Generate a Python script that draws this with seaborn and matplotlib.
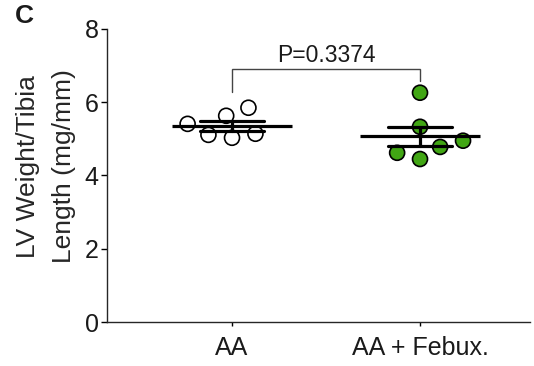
import numpy as np
import pandas as pd
import matplotlib
matplotlib.use("Agg")
import matplotlib.pyplot as plt
from matplotlib.path import Path
import seaborn as sns

# LV weight normalised to tibia length (mg/mm), one value per animal
groups = ["AA", "AA + Febux."]
aa_values = [5.63, 5.85, 5.41, 5.03, 5.11, 5.14]
febux_values = [6.26, 5.33, 4.95, 4.78, 4.62, 4.45]
p_label = "P=0.3374"
y_ticks = [0, 2, 4, 6, 8]

df = pd.DataFrame({
    "group": [groups[0]] * len(aa_values) + [groups[1]] * len(febux_values),
    "value": aa_values + febux_values,
})

sns.set_style("ticks")
plt.rcParams["font.family"] = ["Liberation Sans", "DejaVu Sans"]
plt.rcParams["text.color"] = "#1a1a1a"

fig = plt.figure(figsize=(5.34, 3.66), dpi=100)
ax = fig.add_axes([0.2004, 0.1202, 0.7921, 0.8006])

# circle marker drawn smaller than its nominal size, so the swarm keeps
# a little air between neighbouring dots
pad = 1.4
circle = Path.unit_circle()
spaced_circle = Path(np.vstack([[pad, 0.0], circle.vertices]),
                     np.concatenate([[Path.MOVETO], circle.codes]))

palette = {groups[0]: "white", groups[1]: "#41a614"}
sns.swarmplot(data=df, x="group", y="value", hue="group", palette=palette,
              order=groups, size=10.8 * pad, marker=spaced_circle,
              linewidth=1.2, edgecolor="black",
              legend=False, ax=ax, zorder=2)

# mean line with SEM whiskers
sns.pointplot(data=df, x="group", y="value", order=groups, errorbar="se",
              color="black", marker="_", markersize=86, markeredgewidth=2.3,
              linestyle="none", capsize=0.345,
              err_kws={"linewidth": 2.3}, ax=ax)
for ln in ax.lines:
    ln.set_zorder(3)

# significance bracket
ax.plot([0, 0, 1, 1], [6.28, 6.91, 6.91, 6.58], color="#444444", lw=1.0,
        clip_on=False, solid_joinstyle="miter")
ax.text(0.5, 7.11, p_label, ha="center", va="baseline", fontsize=16.5)

ax.set_xlim(-0.665, 1.585)
ax.set_ylim(0, 8)
ax.set_yticks(y_ticks)
ax.set_yticklabels([str(t) for t in y_ticks], fontsize=18)
ax.set_xticks(range(len(groups)))
ax.set_xticklabels(groups, fontsize=18)
ax.set_xlabel("")
ax.set_ylabel("LV Weight/Tibia\nLength (mg/mm)", fontsize=19, linespacing=1.65)
ax.yaxis.set_label_coords(-0.073, 0.531)

sns.despine(ax=ax)
ax.spines["left"].set_linewidth(1.0)
ax.spines["bottom"].set_linewidth(1.0)
ax.tick_params(axis="y", length=4, width=1.0, pad=2, colors="black")
ax.tick_params(axis="x", length=3, width=1.0, pad=7, colors="black")
for lbl in ax.get_xticklabels() + ax.get_yticklabels():
    lbl.set_color("#1a1a1a")

fig.text(0.045, 0.955, "C", fontsize=19, fontweight="bold", ha="center", va="center")

fig.savefig("out.png", dpi=100)
